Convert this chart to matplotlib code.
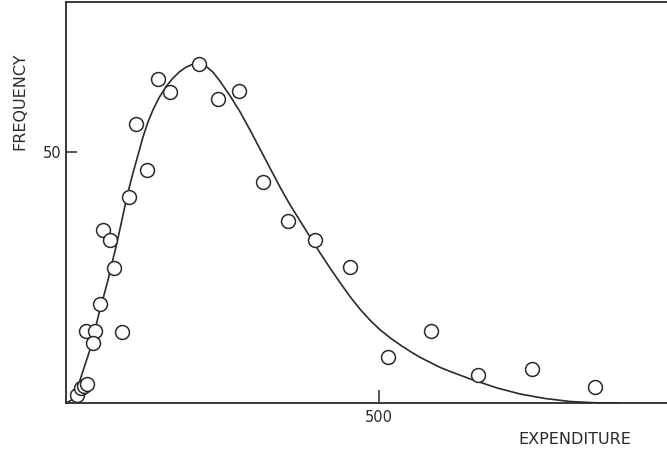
import matplotlib
matplotlib.use("Agg")
import matplotlib.pyplot as plt

# observed points (expenditure, frequency)
obs_x = [17.6, 24.0, 28.8, 33.5, 32.0, 46.3, 43.1, 54.3, 89.5, 59.1, 70.3, 76.7,
         100.6, 129.4, 111.8, 147.0, 166.0, 212.5, 242.8, 276.4, 314.7, 354.6,
         397.8, 453.7, 514.4, 583.1, 658.1, 744.4, 845.0]
obs_y = [1.6, 3.0, 3.4, 3.8, 14.3, 14.3, 12.0, 19.7, 14.1, 34.5, 32.5, 26.9,
         41.0, 46.4, 55.6, 64.5, 62.0, 67.5, 60.6, 62.2, 44.0, 36.3,
         32.5, 27.1, 9.2, 14.3, 5.6, 6.8, 3.2]

# fitted curve
fit_x = [0, 6.4, 11.2, 17.6, 24.0, 31.9, 39.9, 46.3, 52.7, 60.7, 67.1, 73.5,
         79.9, 86.3, 92.7, 99.0, 107.0, 115.0, 123.0, 131.0, 139.0, 148.6,
         159.7, 169.3, 180.5, 191.7, 202.9, 214.1, 223.6, 234.8, 246.0, 262.0,
         278.0, 293.9, 309.9, 325.9, 341.9, 357.8, 373.8, 389.8, 405.8, 421.7,
         437.7, 453.7, 469.6, 485.6, 501.6, 517.6, 533.5, 549.5, 565.5, 581.5,
         597.4, 613.4, 645.4, 688.5, 725.2, 765.2, 805.1, 853.0, 885.0]
fit_y = [0, 0.4, 0.8, 2.6, 5.2, 8.2, 11.2, 14.5, 17.9, 21.5, 24.5, 27.9,
         31.1, 34.7, 38.4, 42.0, 45.8, 49.4, 53.0, 56.0, 58.4, 60.8,
         63.0, 64.5, 65.9, 66.9, 67.5, 67.5, 67.1, 65.9, 64.1, 61.2,
         58.0, 54.4, 50.6, 46.8, 43.0, 39.5, 36.3, 33.1, 29.9, 26.9,
         24.0, 21.2, 18.7, 16.5, 14.6, 13.0, 11.6, 10.3, 9.1, 8.1,
         7.1, 6.3, 4.8, 3.0, 1.8, 0.9, 0.3, 0.0, 0.0]

x_ticks = [500]
y_ticks = [50]

W, H = 667, 454
fig = plt.figure(figsize=(W / 100, H / 100), dpi=100)
ax = fig.add_axes([66 / W, (H - 403) / H, (W - 66) / W, (403 - 2) / H])

ink = "#2a2a2a"
ax.plot(fit_x, fit_y, color=ink, lw=1.2, zorder=2, solid_joinstyle="round")
ax.plot(obs_x, obs_y, linestyle="none", marker="o", markersize=10,
        markerfacecolor="white", markeredgecolor=ink, markeredgewidth=1.1, zorder=3)

ax.set_xlim(0, (W - 66) / 0.626)
ax.set_ylim(0, (403 - 2) / 5.02)
ax.set_xticks(x_ticks)
ax.set_yticks(y_ticks)
ax.set_xticklabels([str(v) for v in x_ticks])
ax.set_yticklabels([str(v) for v in y_ticks])
ax.tick_params(axis="x", direction="in", length=9.5, width=1.1, color=ink,
               labelsize=10.5, pad=5, labelcolor=ink)
ax.tick_params(axis="y", direction="in", length=8, width=1.1, color=ink,
               labelsize=10.5, pad=3, labelcolor=ink)

ax.spines["right"].set_visible(False)
for s in ["left", "bottom", "top"]:
    ax.spines[s].set_linewidth(1.3)
    ax.spines[s].set_color(ink)

fig.text(20 / W, 1 - 101 / H, "FREQUENCY", rotation=90, ha="center", va="center",
         fontsize=11.5, color=ink)
fig.text(575 / W, 1 - 440 / H, "EXPENDITURE", ha="center", va="center",
         fontsize=11.5, color=ink)

fig.savefig("out.png", dpi=100)
